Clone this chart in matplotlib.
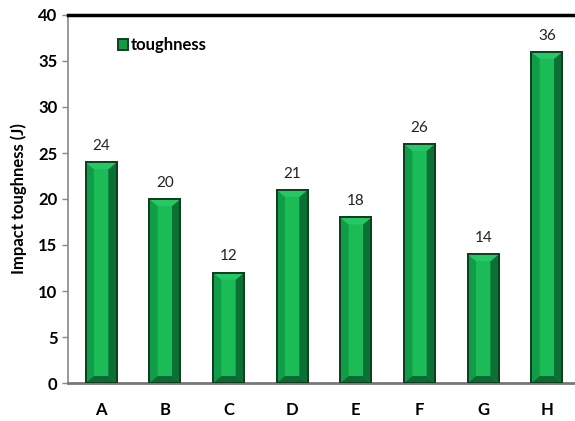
import matplotlib
matplotlib.use("Agg")
import matplotlib.pyplot as plt
from matplotlib.patches import Polygon

plt.rcParams['font.family'] = ['Lato', 'DejaVu Sans']

# data
samples = ['A', 'B', 'C', 'D', 'E', 'F', 'G', 'H']
toughness = [24, 20, 12, 21, 18, 26, 14, 36]

face = '#1bbb58'
edge = '#0f3f1f'
left_c = '#119d47'
right_c = '#0a7033'
top_c = '#26c865'
bot_c = '#0b6a31'

fig = plt.figure(figsize=(5.75, 4.21), dpi=100)
ax = fig.add_axes([68 / 575, 38 / 421, (580 - 68) / 575, 368 / 421])

x = range(len(samples))
width = 0.49
bars = ax.bar(x, toughness, width, color=face, edgecolor=edge, linewidth=1.4,
              label='toughness', zorder=2)
ax.set_xlim(-0.52, 7.52)
ax.set_ylim(0, 40)

# bevel sizes: d in x data units, dy in y data units (about 7 px)
fig.canvas.draw()
px_per_y = ax.transData.transform((0, 1))[1] - ax.transData.transform((0, 0))[1]
dy = 7 / px_per_y
d = width * 0.27

for b in bars:
    x0 = b.get_x()
    x1 = x0 + b.get_width()
    h = b.get_height()
    polys = [
        ([(x0, 0), (x0 + d, dy), (x0 + d, h - dy), (x0, h)], left_c),
        ([(x1, 0), (x1 - d, dy), (x1 - d, h - dy), (x1, h)], right_c),
        ([(x0, h), (x1, h), (x1 - d, h - dy), (x0 + d, h - dy)], top_c),
        ([(x0, 0), (x1, 0), (x1 - d, dy), (x0 + d, dy)], bot_c),
    ]
    for pts, c in polys:
        ax.add_patch(Polygon(pts, closed=True, facecolor=c, edgecolor='none', zorder=3))
    ax.text(b.get_x() + b.get_width() / 2, h + 1.0, str(h), ha='center', va='bottom',
            fontsize=11, color='#222222')

# outline on top of bevels
ax.bar(x, toughness, width, fill=False, edgecolor=edge, linewidth=1.4, zorder=4)

ax.set_xticks(list(x))
ax.set_xticklabels(samples, fontsize=12, fontweight='bold')
ax.set_yticks(range(0, 41, 5))
ax.tick_params(axis='y', labelsize=12, length=4, color='#888888', width=1)
for t in ax.get_yticklabels():
    t.set_fontweight('bold')
ax.tick_params(axis='x', length=0, pad=14)
ax.set_ylabel('Impact toughness (J)', fontsize=12, fontweight='bold', labelpad=8)

ax.spines['left'].set_color('#888888')
ax.spines['left'].set_linewidth(1.2)
ax.spines['bottom'].set_color('#777777')
ax.spines['bottom'].set_linewidth(2)
ax.spines['top'].set_color('black')
ax.spines['top'].set_linewidth(2.5)
ax.spines['right'].set_visible(False)

leg = ax.legend(loc='center left', bbox_to_anchor=(0.068, 0.918), frameon=False,
                handlelength=0.6, handleheight=0.6, handletextpad=0.2,
                prop={'weight': 'bold', 'size': 12})
leg.legend_handles[0].set_facecolor('#129a45')

fig.savefig('out.png', dpi=100)
